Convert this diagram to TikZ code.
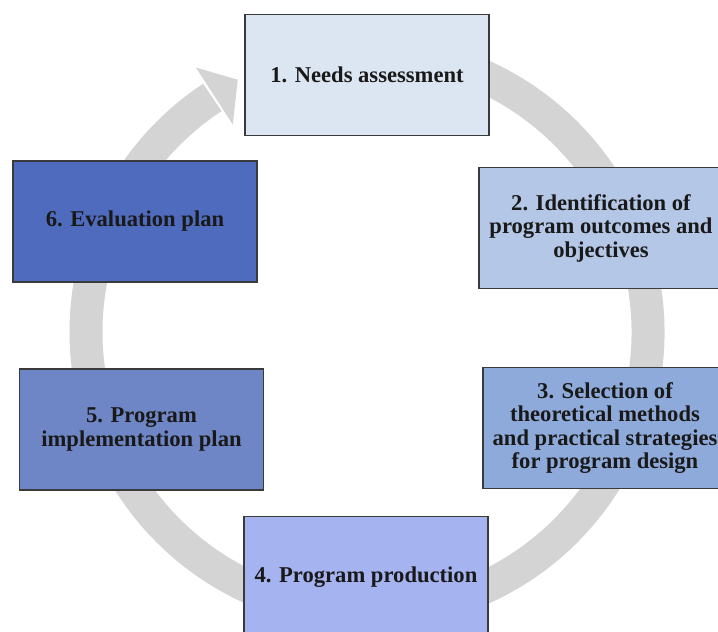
\documentclass[tikz,border=0pt]{standalone}
\usepackage{fontspec}
\setmainfont{Liberation Serif}
\usetikzlibrary{calc}
\definecolor{ringgray}{HTML}{D4D4D4}
\definecolor{edgecol}{HTML}{3A3A3A}
\definecolor{cA}{HTML}{DCE6F2}
\definecolor{cB}{HTML}{B4C7E7}
\definecolor{cC}{HTML}{8EAADB}
\definecolor{cD}{HTML}{A5B3F1}
\definecolor{cE}{HTML}{6F86C6}
\definecolor{cF}{HTML}{4F6BBD}
\tikzset{
  stagebox/.style={draw=edgecol, line width=1.3pt, minimum width=244pt, minimum height=121pt,
    align=center, inner sep=2pt, font=\fontsize{22.6}{23.5}\selectfont\bfseries, text=black!90},
  ringline/.style={draw=ringgray, line width=33pt}
}
\begin{document}
\begin{tikzpicture}[x=1pt,y=1pt]
\useasboundingbox (0,0) rectangle (718,-632);
\clip (0,0) rectangle (718,-632);
\fill[white] (0,0) rectangle (718,-632);
% ring arrow
\coordinate (ctr) at (367,-332);
\draw[ringline] ($(ctr)+(100:281)$) arc[start angle=100, end angle=-236.6, radius=281];
\coordinate (hA) at ($(ctr)+(122.9:315)$);
\coordinate (hB) at ($(ctr)+(122.9:247)$);
\coordinate (hT) at (237.7,-79.7);
\fill[ringgray] (hA) -- (hT) -- (hB) -- cycle;
% boxes
\node[stagebox, fill=cA] (n1) at (367,-75) {1. Needs assessment};
\node[stagebox, fill=cB] (n2) at (601,-228) {2. Identification of\\program outcomes and\\objectives};
\node[stagebox, fill=cC] (n3) at (605,-428) {3. Selection of\\theoretical methods\\and practical strategies\\for program design};
\node[stagebox, fill=cD] (n4) at (366,-577) {4. Program production};
\node[stagebox, fill=cE] (n5) at (141.5,-429.5) {5. Program\\implementation plan};
\node[stagebox, fill=cF] (n6) at (135,-221.5) {6. Evaluation plan};
\end{tikzpicture}
\end{document}
